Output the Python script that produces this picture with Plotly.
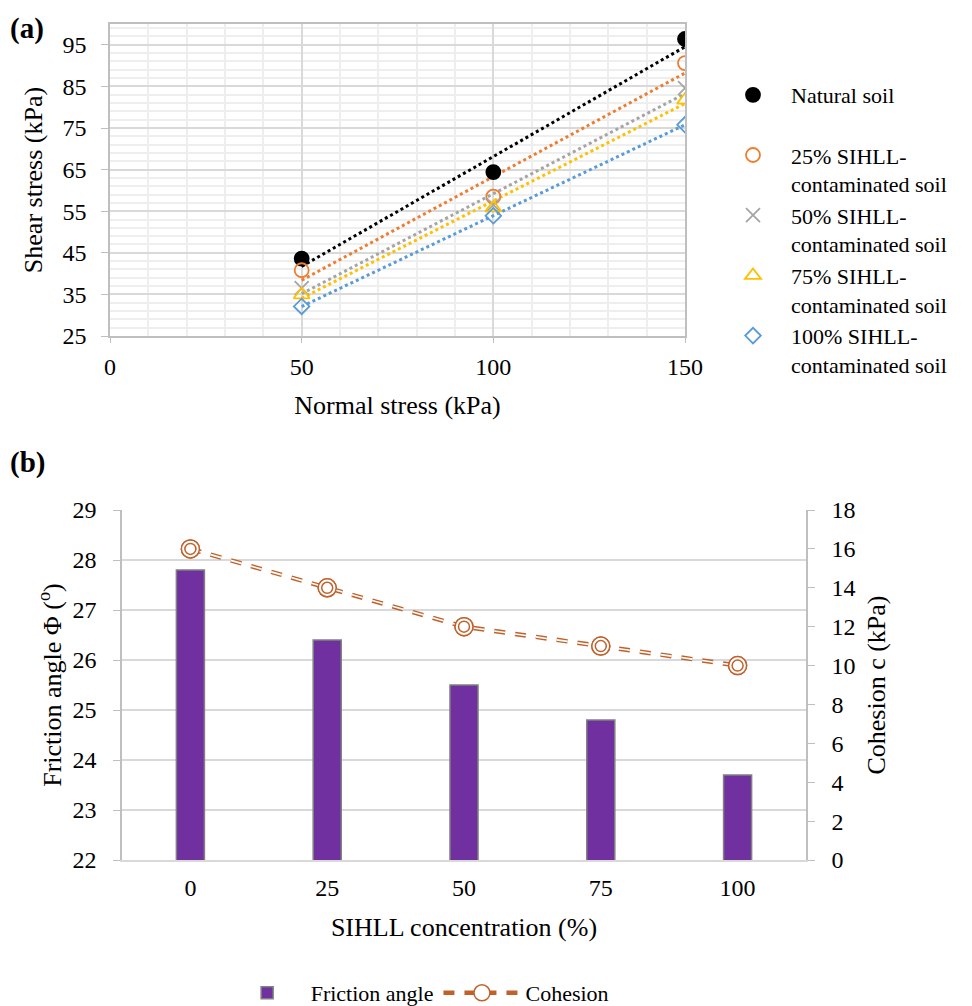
import numpy as np
import plotly.graph_objects as go

# ---------------- data: panel (a) ----------------
normal_stress = [50, 100, 150]
series_names = ["Natural soil", "25% SIHLL-<br>contaminated soil", "50% SIHLL-<br>contaminated soil",
                "75% SIHLL-<br>contaminated soil", "100% SIHLL-<br>contaminated soil"]
natural_soil = [43.6, 64.4, 96.4]
sihll_25 = [40.8, 58.5, 90.6]
sihll_50 = [36.5, 56.5, 84.6]
sihll_75 = [34.9, 55.8, 81.7]
sihll_100 = [32.1, 53.9, 75.8]

# ---------------- data: panel (b) ----------------
concentration = ["0", "25", "50", "75", "100"]
friction_angle = [27.8, 26.4, 25.5, 24.8, 23.7]
cohesion = [16.0, 14.0, 12.0, 11.0, 10.0]

FONT = "Liberation Serif, Times New Roman, serif"
W, H = 972, 1006

colors = ["#000000", "#ED7D31", "#A5A5A5", "#FFC000", "#5B9BD5"]
symbols = ["circle", "circle-open", "x-thin-open", "triangle-up-open", "diamond-open"]
sizes = [14, 14, 14, 14, 12]
all_series = [natural_soil, sihll_25, sihll_50, sihll_75, sihll_100]

fig = go.Figure()

# trendlines (linear fits) first so markers sit on top
for vals, c in zip(all_series, colors):
    k, b = np.polyfit(normal_stress, vals, 1)
    xs = np.array([normal_stress[0], normal_stress[-1]])
    fig.add_trace(go.Scatter(x=xs, y=k * xs + b, mode="lines",
                             line=dict(color=c, width=3, dash="dot"),
                             showlegend=False, hoverinfo="skip",
                             xaxis="x", yaxis="y"))

for vals, name, c, s, sz in zip(all_series, series_names, colors, symbols, sizes):
    if name == "Natural soil":
        name = "Natural soil<br>\u00a0"
    fig.add_trace(go.Scatter(x=normal_stress, y=vals, mode="markers", name=name,
                             marker=dict(symbol=s, size=sz, color=c,
                                         line=dict(color=c, width=1.8)),
                             xaxis="x", yaxis="y", legend="legend"))

# panel (b)
fig.add_trace(go.Bar(x=concentration, y=friction_angle, name="Friction angle",
                     width=0.205, marker=dict(color="#7030A0", line=dict(color="#808080", width=1.5)),
                     xaxis="x2", yaxis="y3", legend="legend2"))

brown = "#C0612B"
fig.add_trace(go.Scatter(x=concentration, y=cohesion, mode="lines+markers", name="Cohesion",
                         line=dict(color=brown, width=4.5, dash="11px,10px"),
                         marker=dict(symbol="circle", size=18, color="white",
                                     line=dict(color=brown, width=1.5)),
                         xaxis="x2", yaxis="y4", legend="legend2"))
fig.add_trace(go.Scatter(x=concentration, y=cohesion, mode="lines",
                         line=dict(color="white", width=1.6, dash="11px,10px"),
                         showlegend=False, hoverinfo="skip", xaxis="x2", yaxis="y4"))
fig.add_trace(go.Scatter(x=concentration, y=cohesion, mode="markers",
                         marker=dict(symbol="circle", size=18, color="white",
                                     line=dict(color=brown, width=1.5)),
                         showlegend=False, hoverinfo="skip", xaxis="x2", yaxis="y4"))
fig.add_trace(go.Scatter(x=concentration, y=cohesion, mode="markers",
                         marker=dict(symbol="circle-open", size=11, color=brown,
                                     line=dict(color=brown, width=1.5)),
                         showlegend=False, hoverinfo="skip", xaxis="x2", yaxis="y4"))

tickfont = dict(family=FONT, size=24, color="black")
titlefont = dict(family=FONT, size=26, color="black")

def px_x(a, b):
    return [a / W, b / W]

def px_y(top, bottom):
    return [1 - bottom / H, 1 - top / H]

fig.update_layout(
    width=W, height=H,
    margin=dict(l=0, r=0, t=0, b=0, autoexpand=False),
    paper_bgcolor="white", plot_bgcolor="white",
    font=dict(family=FONT, size=24, color="black"),
    xaxis=dict(domain=px_x(110, 685), range=[0, 150], tickvals=[0, 50, 100, 150],
               showgrid=True, gridcolor="#d9d9d9", gridwidth=1.5,
               minor=dict(dtick=10, tick0=0, showgrid=True, gridcolor="#eeeeee", gridwidth=1.5),
               showline=True, linecolor="#bfbfbf", linewidth=1.5, mirror=True,
               ticks="outside", ticklen=5, tickcolor="#bfbfbf",
               tickfont=tickfont, ticklabelstandoff=3, zeroline=False,
               title=dict(text="Normal stress (kPa)", font=titlefont, standoff=17),
               anchor="y"),
    yaxis=dict(domain=px_y(24, 336), range=[25, 100], tick0=25, dtick=10,
               showgrid=True, gridcolor="#d9d9d9", gridwidth=1.5,
               minor=dict(dtick=2, tick0=25, showgrid=True, gridcolor="#eeeeee", gridwidth=1.5),
               showline=True, linecolor="#bfbfbf", linewidth=1.5, mirror=True,
               ticks="outside", ticklen=7, tickcolor="#bfbfbf",
               tickfont=tickfont, ticklabelstandoff=10, zeroline=False,
               title=dict(text="Shear stress (kPa)", font=titlefont, standoff=12),
               anchor="x"),
    xaxis2=dict(domain=px_x(122, 806), type="category", showgrid=False,
                showline=True, linecolor="#d9d9d9", linewidth=1.5,
                ticks="", tickfont=tickfont, ticklabelstandoff=5,
                title=dict(text="SIHLL concentration (%)", font=titlefont, standoff=18),
                anchor="y3"),
    yaxis3=dict(domain=px_y(510, 860), range=[22, 29], dtick=1,
                showgrid=True, gridcolor="#d9d9d9", gridwidth=1.5,
                showline=True, linecolor="#bfbfbf", linewidth=1.5,
                ticks="outside", ticklen=7, tickcolor="#bfbfbf",
                tickfont=tickfont, ticklabelstandoff=12, zeroline=False,
                title=dict(text="Friction angle \u03a6 (<sup>o</sup>)", font=titlefont, standoff=3),
                anchor="x2"),
    yaxis4=dict(range=[0, 18], dtick=2, overlaying="y3", side="right",
                showgrid=False, showline=True, linecolor="#bfbfbf", linewidth=1.5,
                ticks="outside", ticklen=7, tickcolor="#bfbfbf",
                tickfont=tickfont, ticklabelstandoff=12, zeroline=False,
                title=dict(text="Cohesion c (kPa)", font=titlefont, standoff=12),
                anchor="x2"),
    legend=dict(x=715 / W, y=1 - 74 / H, xanchor="left", yanchor="top",
                font=dict(family=FONT, size=22, color="black"), valign="top",
                bgcolor="rgba(0,0,0,0)", itemwidth=66, tracegroupgap=0),
    legend2=dict(orientation="h", x=0.4307, y=1 - 993 / H, xanchor="center", yanchor="middle",
                 font=dict(family=FONT, size=22, color="black"),
                 bgcolor="rgba(0,0,0,0)", itemwidth=77),
    annotations=[
        dict(text="<b>(a)</b>", x=8 / W, y=1 - 28 / H, xref="paper", yref="paper",
             xanchor="left", yanchor="middle", showarrow=False,
             font=dict(family=FONT, size=29, color="black")),
        dict(text="<b>(b)</b>", x=8 / W, y=1 - 462 / H, xref="paper", yref="paper",
             xanchor="left", yanchor="middle", showarrow=False,
             font=dict(family=FONT, size=29, color="black")),
    ],
)

fig.write_html("out.html")
